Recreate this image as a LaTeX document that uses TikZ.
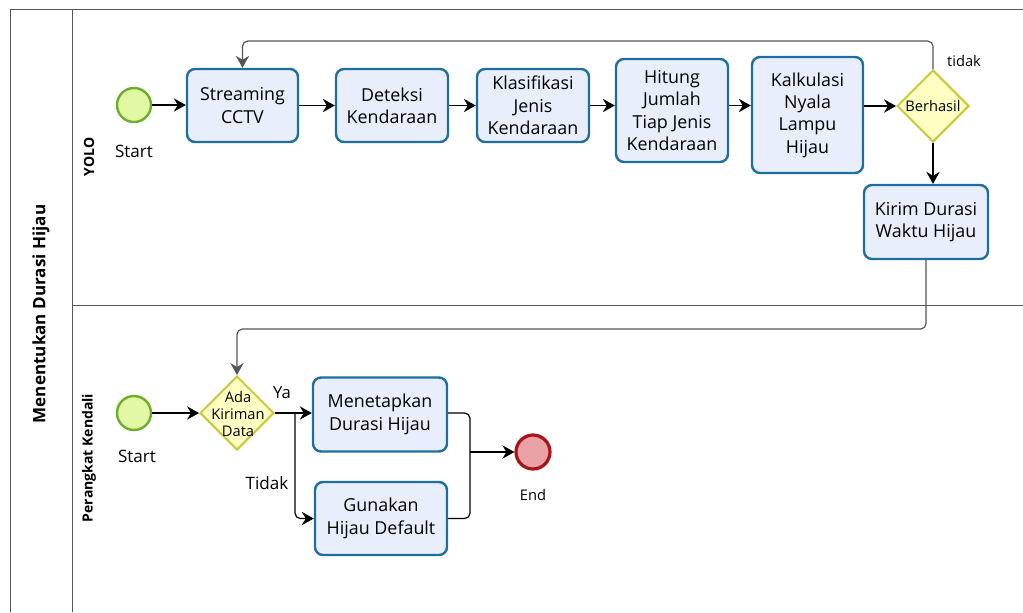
\documentclass[tikz,border=0pt]{standalone}
\usepackage{fontspec}
\setmainfont{Open Sans}
\usetikzlibrary{shapes.geometric,arrows.meta,calc}
\definecolor{taskfill}{HTML}{E9EEFC}
\definecolor{taskdraw}{HTML}{1E6E9E}
\definecolor{startfill}{HTML}{E2F8A4}
\definecolor{startdraw}{HTML}{6AAE2A}
\definecolor{endfill}{HTML}{EAA2A6}
\definecolor{enddraw}{HTML}{A8141A}
\definecolor{gatefill}{HTML}{FFFFC4}
\definecolor{gatedraw}{HTML}{C8C83C}
\definecolor{lanegray}{HTML}{555555}
\begin{document}
\begin{tikzpicture}[x=0.75pt,y=-0.75pt,
  task/.style={draw=taskdraw, fill=taskfill, line width=1.8pt, rounded corners=6pt, align=center, font=\fontsize{13.4}{16.8}\selectfont, inner sep=1pt},
  startev/.style={circle, draw=startdraw, fill=startfill, line width=1.8pt, minimum size=25.5pt, inner sep=0pt},
  endev/.style={circle, draw=enddraw, fill=endfill, line width=2.4pt, minimum size=25.5pt, inner sep=0pt},
  gate/.style={diamond, draw=gatedraw, fill=gatefill, line width=1.5pt, inner sep=0pt},
  gatetext/.style={align=center, font=\fontsize{11}{12.5}\selectfont, inner sep=0pt},
  flow/.style={draw=black, line width=0.9pt, -{Stealth[length=9pt,width=10pt,inset=3pt]}},
  loopflow/.style={draw=lanegray, line width=0.9pt, rounded corners=4pt, -{Stealth[length=9pt,width=10pt,inset=3pt]}},
  plain/.style={draw=black, line width=0.9pt, rounded corners=4pt},
  evlabel/.style={font=\fontsize{12.8}{14}\selectfont, inner sep=0pt},
  lanelabel/.style={font=\bfseries\fontsize{10.5}{12}\selectfont, rotate=90, inner sep=0pt},
  frame/.style={draw=lanegray, line width=0.75pt}
]
\useasboundingbox (0,0) rectangle (1023,612);
% pool and lanes
\draw[frame] (1023,9) -- (10,9) -- (10,612);
\draw[frame] (72,9) -- (72,612);
\draw[frame] (72,305) -- (1023,305);
\node[font=\bfseries\fontsize{12.8}{14}\selectfont, rotate=90, inner sep=0pt] (pool) at (41,314) {Menentukan Durasi Hijau};
\node[lanelabel] (l1) at (89,157) {YOLO};
\node[lanelabel] (l2) at (89,458) {Perangkat Kendali};

% lane YOLO
\node[startev] (s1) at (134,105) {};
\node[evlabel] (s1l) at (134,151) {Start};
\node[task, minimum width=83.25pt, minimum height=54.75pt] (st) at (242.5,105.5) {Streaming\\CCTV};
\node[task, minimum width=84pt, minimum height=54.75pt] (de) at (392,105.5) {Deteksi\\Kendaraan};
\node[task, minimum width=84pt, minimum height=54.75pt] (kl) at (533,105.5) {Klasifikasi\\Jenis\\Kendaraan};
\node[task, minimum width=84pt, minimum height=77.25pt] (hi) at (672,110.5) {Hitung\\Jumlah\\Tiap Jenis\\Kendaraan};
\node[task, minimum width=83.25pt, minimum height=87pt] (ka) at (807.5,115) {Kalkulasi\\Nyala\\Lampu\\Hijau};
\node[gate, minimum width=54pt, minimum height=54pt] (be) at (933,106) {};
\node[gatetext] (bet) at (933,106) {Berhasil};
\node[font=\fontsize{11}{12}\selectfont, inner sep=0pt] (tidak1) at (964,61) {tidak};
\node[task, minimum width=93pt, minimum height=55.5pt] (ki) at (926,222) {Kirim Durasi\\Waktu Hijau};

\draw[flow] (s1) -- (st.west |- s1);
\draw[flow] (st.east) -- (de.west);
\draw[flow] (de.east) -- (kl.west);
\draw[flow] (kl.east) -- (hi.west |- kl.east);
\draw[flow] (hi.east |- kl.east) -- (ka.west |- kl.east);
\draw[flow] (ka.east |- be.west) -- (be.west);
\draw[loopflow] (be.north) -- (be.north |- 0,41) -- (st.north |- 0,41) -- (st.north);
\draw[flow] (be.south) -- (be.south |- ki.north);

% lane Perangkat Kendali
\node[startev] (s2) at (134,413) {};
\node[evlabel] (s2l) at (137,456) {Start};
\node[gate, minimum width=55.5pt, minimum height=55.5pt] (ad) at (237,413) {};
\node[gatetext] (adt) at (238,414) {Ada\\Kiriman\\Data};
\node[font=\fontsize{12.5}{14}\selectfont, inner sep=0pt] (ya) at (282,393) {Ya};
\node[font=\fontsize{12.8}{14}\selectfont, inner sep=0pt] (td) at (267,483) {Tidak};
\node[task, minimum width=100.5pt, minimum height=55.5pt] (me) at (380,414.5) {Menetapkan\\Durasi Hijau};
\node[task, minimum width=99pt, minimum height=54.75pt] (gu) at (381,518.5) {Gunakan\\Hijau Default};
\node[endev] (en) at (533,452) {};
\node[font=\fontsize{11}{12}\selectfont, inner sep=0pt] (enl) at (533,495) {End};
\coordinate (br) at (295,413);
\coordinate (mg) at (470,452);

\draw[loopflow] (ki.south) -- (ki.south |- 0,329) -- (ad.north |- 0,329) -- (ad.north);
\draw[flow] (s2) -- (ad.west);
\draw[flow] (ad.east) -- (me.west |- ad.east);
\draw[flow, rounded corners=4pt] (br) |- (gu.west);
\draw[plain] (me.east |- ad.east) -| (mg);
\draw[plain] (gu.east) -| (mg);
\draw[flow] (mg) -- (en.west);
\end{tikzpicture}
\end{document}
